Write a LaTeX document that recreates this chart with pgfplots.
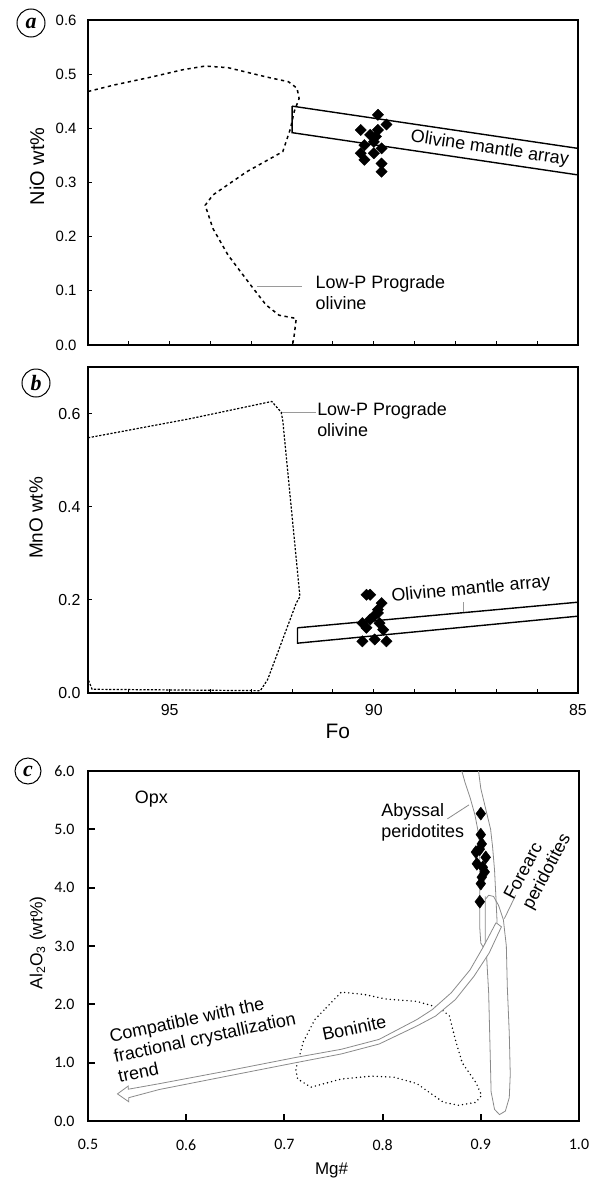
\documentclass[border=0pt]{standalone}
\usepackage{fontspec}
\setmainfont{Liberation Sans}
\newfontfamily\carlito{Carlito}
\newfontfamily\seriffont{Liberation Serif}
\usepackage{pgfplots}
\pgfplotsset{compat=1.18}
\definecolor{fieldgray}{HTML}{8A8A8A}
\definecolor{leadgray}{HTML}{9A9A9A}

\newcommand{\fs}[1]{\fontsize{#1}{1.15\dimexpr #1pt\relax}\selectfont}

\pgfplotsset{
  fopanel/.style={
    scale only axis, width=490bp, height=325bp, anchor=south west,
    axis line style={line width=1.3bp}, tick align=inside, tick pos=left,
    major tick length=4bp, minor tick length=4bp,
    every tick/.style={line width=1bp, black},
    /pgf/number format/assume math mode=true,
    x dir=reverse, xmin=85, xmax=97,
    xtick={85,90,95}, minor xtick={86,87,88,89,91,92,93,94,96},
    yticklabel style={/pgf/number format/fixed, /pgf/number format/fixed zerofill, /pgf/number format/precision=1},
    label style={font=\fs{19}},
  },
}

\begin{document}
\begin{tikzpicture}
\path[use as bounding box] (0,0) rectangle (596bp,-1182bp);

% ---------- (a) NiO vs Fo ----------
\begin{axis}[fopanel, at={(88bp,-345bp)},
  ymin=0, ymax=0.6, ytick={0,0.1,0.2,0.3,0.4,0.5,0.6},
  xticklabels={},
  yticklabel style={font=\fs{15}, xshift=-8bp},
  ylabel={NiO wt\%},
  ylabel style={at={(axis description cs:-0.104,0.55)}, anchor=center, font=\fs{20}},
  ]
\addplot[black, line width=1.5bp, dash pattern=on 3.3bp off 3.5bp] coordinates {
  (97,0.468) (96.36,0.480) (95.43,0.495) (94.69,0.508) (94.13,0.515) (93.57,0.512)
  (92.64,0.495) (92.09,0.486) (91.88,0.474) (91.83,0.455) (91.95,0.431) (92.04,0.400)
  (92.23,0.357) (93.11,0.320) (93.94,0.277) (94.13,0.258) (93.94,0.215) (93.57,0.166)
  (93.02,0.111) (92.64,0.074) (92.32,0.055) (91.90,0.049) (91.95,0.018) (91.99,0.0)};
\addplot[black, line width=1.4bp] coordinates {
  (92,0.441) (85,0.363) (85,0.314) (92,0.392) (92,0.441)};
\addplot[leadgray, line width=0.8bp] coordinates {(92.87,0.109) (91.77,0.109)};
\addplot[only marks, mark=square*, mark size=4bp, mark options={rotate=45, fill=black, draw=black}] coordinates {
  (89.90,0.425) (89.69,0.407) (90.32,0.397) (89.90,0.397) (90.09,0.388) (90.00,0.375)
  (90.23,0.369) (89.81,0.363) (90.32,0.354) (90.00,0.354) (90.23,0.342) (89.81,0.335)
  (89.81,0.320) (89.95,0.385)};
\node[rotate=-8.4, font=\fs{18}, inner sep=0] at (axis cs:87.16,0.362) {Olivine mantle array};
\node[anchor=west, align=left, font=\fs{18}, inner sep=0] at (axis cs:91.43,0.097) {Low-P Prograde\\olivine};
\end{axis}

% ---------- (b) MnO vs Fo ----------
\begin{axis}[fopanel, at={(88bp,-693bp)}, height=326bp,
  ymin=0, ymax=0.7, ytick={0,0.2,0.4,0.6},
  ticklabel style={font=\fs{16}},
  yticklabel style={xshift=-4bp},
  xticklabel style={yshift=-8bp},
  xlabel={Fo}, ylabel={MnO wt\%},
  xlabel style={at={(axis description cs:0.51,-0.119)}, anchor=center, font=\fs{21}},
  ylabel style={at={(axis description cs:-0.106,0.537)}, anchor=center},
  ]
\addplot[black, line width=1.2bp, dash pattern=on 2.2bp off 1.6bp] coordinates {
  (97,0.548) (94.5,0.589) (92.5,0.626) (92.27,0.603) (92.23,0.585) (91.81,0.207)
  (91.90,0.193) (92.60,0.029) (92.78,0.005) (96.9,0.008) (97,0.03)};
\addplot[black, line width=1.4bp] coordinates {
  (91.87,0.140) (85,0.195) (85,0.165) (91.87,0.107) (91.87,0.140)};
\addplot[leadgray, line width=0.8bp] coordinates {(92.25,0.603) (91.42,0.603)};
\addplot[leadgray, line width=0.8bp] coordinates {(87.80,0.173) (87.80,0.195)};
\addplot[only marks, mark=square*, mark size=4bp, mark options={rotate=45, fill=black, draw=black}] coordinates {
  (90.18,0.211) (90.09,0.211) (89.81,0.193) (89.90,0.179) (90.00,0.165) (90.09,0.158)
  (90.28,0.150) (90.18,0.140) (89.86,0.150) (89.77,0.136) (90.28,0.111) (89.98,0.115)
  (89.69,0.111) (89.90,0.172)};
\node[rotate=5.2, font=\fs{18}, inner sep=0] at (axis cs:87.62,0.222) {Olivine mantle array};
\node[anchor=west, align=left, font=\fs{18}, inner sep=0] at (axis cs:91.39,0.5865) {Low-P Prograde\\olivine};
\end{axis}

% ---------- (c) Al2O3 vs Mg# ----------
\begin{axis}[scale only axis, width=491bp, height=350bp, anchor=south west, at={(88bp,-1121bp)},
  xmin=0.5, xmax=1.0, ymin=0, ymax=6,
  xtick={0.5,0.6,0.7,0.8,0.9,1.0}, ytick={0,1,2,3,4,5,6},
  axis line style={line width=2bp}, tick align=inside, tick pos=left,
  major tick length=7bp, every tick/.style={line width=2bp, black},
  /pgf/number format/assume math mode=true,
  ticklabel style={font=\carlito\fs{16}, /pgf/number format/fixed, /pgf/number format/fixed zerofill, /pgf/number format/precision=1},
  xticklabel style={yshift=-15bp},
  yticklabel style={xshift=-10bp},
  label style={font=\fs{18}},
  xlabel={Mg\#}, ylabel={Al\textsubscript{2}O\textsubscript{3} (wt\%)},
  xlabel style={at={(axis description cs:0.496,-0.142)}, anchor=center, font=\fs{17}},
  ylabel style={at={(axis description cs:-0.102,0.509)}, anchor=center, font=\fs{17.5}},
  ]
% boninite field
\addplot[black, line width=1.6bp, line cap=round, dash pattern=on 0bp off 4.2bp] coordinates {
  (0.7425,1.94) (0.758,2.21) (0.781,2.17) (0.804,2.09) (0.835,2.05) (0.858,1.94)
  (0.868,1.80) (0.874,1.40) (0.881,1.00) (0.895,0.66) (0.9008,0.44) (0.895,0.32)
  (0.8776,0.27) (0.862,0.32) (0.835,0.64) (0.812,0.75) (0.789,0.77) (0.758,0.72)
  (0.727,0.58) (0.7135,0.72) (0.7116,0.89) (0.7155,1.12) (0.719,1.35) (0.731,1.74)
  (0.7425,1.94)};
% abyssal peridotites field
\addplot[fieldgray, line width=0.8bp] coordinates {
  (0.8807,6.0) (0.884,5.8) (0.889,5.55) (0.894,5.25) (0.898,4.9) (0.899,4.5)
  (0.899,3.9) (0.899,3.3) (0.900,3.05) (0.9025,2.98) (0.9046,3.05) (0.9046,3.85)};
\addplot[fieldgray, line width=0.8bp] coordinates {
  (0.8977,6.0) (0.900,5.7) (0.905,5.35) (0.910,5.0) (0.912,4.7) (0.914,4.3)
  (0.9155,3.8) (0.9166,3.4)};
% forearc peridotites field
\addplot[fieldgray, line width=0.8bp] coordinates {
  (0.9046,3.8) (0.908,3.87) (0.913,3.85) (0.918,3.7) (0.923,3.45) (0.926,3.0)
  (0.927,2.3) (0.929,1.5) (0.930,0.8) (0.929,0.4) (0.925,0.17) (0.919,0.11)
  (0.914,0.2) (0.9105,0.5) (0.9095,1.2) (0.908,2.2) (0.906,2.8) (0.9046,3.05)};
% hollow trend arrow
\addplot[fill=white, draw=fieldgray, line width=0.8bp] coordinates {
  (0.9155,3.40) (0.9027,2.99) (0.889,2.59) (0.870,2.20) (0.8506,1.91) (0.835,1.74)
  (0.7965,1.40) (0.758,1.23) (0.7116,1.09) (0.642,0.86) (0.5726,0.64) (0.541,0.545)
  (0.541,0.60) (0.530,0.465) (0.5415,0.33) (0.5415,0.40)
  (0.5726,0.54) (0.642,0.77) (0.7116,1.00) (0.758,1.15) (0.7965,1.32) (0.835,1.63)
  (0.854,1.80) (0.874,2.08) (0.893,2.48) (0.9085,2.88) (0.921,3.33) (0.9155,3.40)};
% leader lines
\addplot[fieldgray, line width=0.8bp] coordinates {(0.866,5.18) (0.888,5.42)};
\addplot[fieldgray, line width=0.8bp] coordinates {(0.924,3.47) (0.9355,3.87)};
% samples
\addplot[only marks, mark=diamond*, mark size=6.5bp, mark options={fill=black, draw=black}] coordinates {
  (0.900,5.27) (0.900,4.91) (0.901,4.75) (0.899,4.66) (0.895,4.61) (0.905,4.52)
  (0.896,4.41) (0.902,4.35) (0.904,4.27) (0.901,4.18) (0.900,4.07) (0.899,3.76)};
\node[anchor=west, font=\fs{18}, inner sep=0] at (axis cs:0.5475,5.52) {Opx};
\node[anchor=west, align=left, font=\fs{18}, inner sep=0] at (axis cs:0.7985,5.12) {Abyssal\\peridotites};
\node[rotate=62, align=left, font=\fs{18}, inner sep=0] at (axis cs:0.9587,4.35) {Forearc\\peridotites};
\node[rotate=12, font=\fs{18}, inner sep=0] at (axis cs:0.771,1.60) {Boninite};
\node[rotate=12, anchor=north west, align=left, font=\fs{18}, inner sep=0] at (axis cs:0.5205,1.57)
  {Compatible with the\\fractional crystallization\\trend};
\end{axis}

% panel letters
\node[draw, circle, line width=1bp, inner sep=0pt, minimum size=28bp,
  font=\seriffont\bfseries\itshape\fs{22}] at (31bp,-23bp) {a};
\node[draw, circle, line width=1bp, inner sep=0pt, minimum size=28bp,
  font=\seriffont\bfseries\itshape\fs{22}] at (36bp,-383bp) {b};
\node[draw, circle, line width=1bp, inner sep=0pt, minimum size=26bp,
  font=\seriffont\bfseries\itshape\fs{22}] at (28bp,-771bp) {c};
\end{tikzpicture}
\end{document}
